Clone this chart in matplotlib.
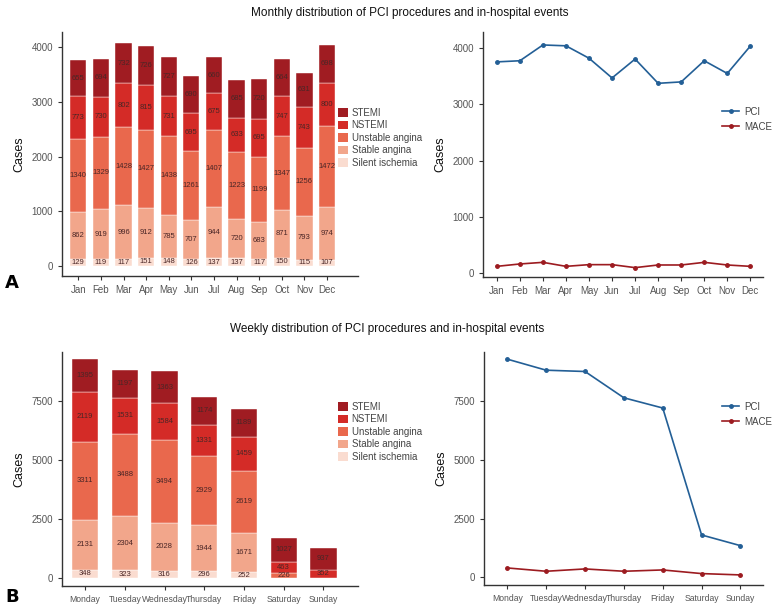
import numpy as np
import matplotlib
matplotlib.use("Agg")
import matplotlib.pyplot as plt
from matplotlib.lines import Line2D
from matplotlib.patches import Patch

plt.rcParams['font.family'] = ['Liberation Sans Narrow', 'Liberation Sans', 'DejaVu Sans']

# ---- data ----
months = ['Jan', 'Feb', 'Mar', 'Apr', 'May', 'Jun', 'Jul', 'Aug', 'Sep', 'Oct', 'Nov', 'Dec']
m_silent = [129, 119, 117, 151, 148, 126, 137, 137, 117, 150, 115, 107]
m_stable = [862, 919, 996, 912, 785, 707, 944, 720, 683, 871, 793, 974]
m_unstable = [1340, 1329, 1428, 1427, 1438, 1261, 1407, 1223, 1199, 1347, 1256, 1472]
m_nstemi = [773, 730, 802, 815, 731, 695, 675, 633, 695, 747, 743, 800]
m_stemi = [655, 694, 732, 726, 727, 690, 660, 685, 720, 664, 631, 698]
m_pci = [3750, 3770, 4050, 4035, 3815, 3465, 3800, 3370, 3395, 3770, 3545, 4030]
m_mace = [124, 166, 195, 124, 154, 154, 101, 148, 148, 195, 148, 124]

days = ['Monday', 'Tuesday', 'Wednesday', 'Thursday', 'Friday', 'Saturday', 'Sunday']
w_silent = [348, 323, 316, 296, 252, 0, 0]
w_stable = [2131, 2304, 2028, 1944, 1671, 0, 0]
w_unstable = [3311, 3488, 3494, 2929, 2619, 226, 0]
w_nstemi = [2119, 1531, 1584, 1331, 1459, 463, 352]
w_stemi = [1395, 1197, 1363, 1174, 1189, 1027, 937]
w_pci = [9285, 8815, 8760, 7640, 7205, 1800, 1345]
w_mace = [396, 255, 354, 255, 311, 156, 99]

types = ['Silent ischemia', 'Stable angina', 'Unstable angina', 'NSTEMI', 'STEMI']
type_colors = ['#fadcd0', '#f2a68b', '#e9684d', '#d42b27', '#a01c22']
pci_color = '#235f96'
mace_color = '#9c1b20'

W, H = 777, 610
fig = plt.figure(figsize=(W / 100, H / 100), dpi=100)


def px_axes(x0, y0, x1, y1):
    # pixel box (left, top, right, bottom) -> axes
    return fig.add_axes([x0 / W, 1 - y1 / H, (x1 - x0) / W, (y1 - y0) / H])


def style(ax, xsize=7):
    for s in ['top', 'right']:
        ax.spines[s].set_visible(False)
    for s in ['left', 'bottom']:
        ax.spines[s].set_color('#333333')
        ax.spines[s].set_linewidth(1.0)
    ax.tick_params(axis='both', labelsize=7, colors='#333333', labelcolor='#555555',
                   length=3, width=0.8)
    ax.tick_params(axis='x', labelsize=xsize)
    ax.set_ylabel('Cases', fontsize=9, color='#111111')
    w = ax.get_position().width * W
    ax.yaxis.set_label_coords(-37 / w, 0.5)


def stacked(ax, cats, layers, width, xsize=7):
    x = np.arange(len(cats))
    bottom = np.zeros(len(cats))
    for vals, col in zip(layers, type_colors):
        vals = np.array(vals, dtype=float)
        ax.bar(x, vals, width, bottom=bottom, color=col, edgecolor='white', linewidth=0.3)
        for xi, b, v in zip(x, bottom, vals):
            if v > 0:
                ax.text(xi, b + v / 2, f'{int(v)}', ha='center', va='center',
                        fontsize=5.5, color='#4a2626')
        bottom += vals
    ax.set_xticks(x)
    ax.set_xticklabels(cats)
    style(ax, xsize)


def bar_legend(ax, y_top):
    handles = [Patch(facecolor=c, edgecolor='none') for c in type_colors[::-1]]
    fig.legend(handles, types[::-1], loc='upper left',
               bbox_to_anchor=(334 / W, 1 - y_top / H), frameon=False,
               fontsize=7, labelcolor='#444444', handlelength=1.0, handleheight=1.0,
               handletextpad=0.4, labelspacing=0.25, borderaxespad=0)


def line_chart(ax, cats, pci, mace, y_top, xsize=7):
    x = np.arange(len(cats))
    ax.plot(x, pci, color=pci_color, lw=1.2, marker='o', ms=2.5)
    ax.plot(x, mace, color=mace_color, lw=1.2, marker='o', ms=2.5)
    ax.set_xticks(x)
    ax.set_xticklabels(cats)
    style(ax, xsize)
    handles = [Line2D([], [], color=pci_color, lw=1.2, marker='o', ms=2.5),
               Line2D([], [], color=mace_color, lw=1.2, marker='o', ms=2.5)]
    fig.legend(handles, ['PCI', 'MACE'], loc='upper left',
               bbox_to_anchor=(718 / W, 1 - y_top / H), frameon=False,
               fontsize=7, labelcolor='#444444', handlelength=1.8,
               handletextpad=0.5, labelspacing=0.5, borderaxespad=0)


# ---- A: monthly ----
ax1 = px_axes(62, 32, 358, 276)
stacked(ax1, months, [m_silent, m_stable, m_unstable, m_nstemi, m_stemi], 0.72)
ax1.set_xlim(-0.72, 12.37)
ax1.set_ylim(-185, 4280)
ax1.set_yticks([0, 1000, 2000, 3000, 4000])
bar_legend(ax1, 104)

ax2 = px_axes(483, 32, 763, 277)
line_chart(ax2, months, m_pci, m_mace, 103)
ax2.set_xlim(-0.6, 11.55)
ax2.set_ylim(-65, 4280)
ax2.set_yticks([0, 1000, 2000, 3000, 4000])

# ---- B: weekly ----
ax3 = px_axes(62, 352, 358, 586)
stacked(ax3, days, [w_silent, w_stable, w_unstable, w_nstemi, w_stemi], 0.66, xsize=6.2)
ax3.set_xlim(-0.58, 6.87)
ax3.set_ylim(-340, 9590)
ax3.set_yticks([0, 2500, 5000, 7500])
bar_legend(ax3, 398)

ax4 = px_axes(484, 352, 763, 585)
line_chart(ax4, days, w_pci, w_mace, 398, xsize=6.2)
ax4.set_xlim(-0.6, 6.58)
ax4.set_ylim(-330, 9590)
ax4.set_yticks([0, 2500, 5000, 7500])

fig.text(410 / W, 1 - 13 / H, 'Monthly distribution of PCI procedures and in-hospital events',
         ha='center', va='center', fontsize=8.5, color='#111111')
fig.text(387 / W, 1 - 329 / H, 'Weekly distribution of PCI procedures and in-hospital events',
         ha='center', va='center', fontsize=8.5, color='#111111')
fig.text(12 / W, 1 - 283 / H, 'A', ha='center', va='center', fontsize=13,
         fontweight='bold', family='DejaVu Sans')
fig.text(12 / W, 1 - 597 / H, 'B', ha='center', va='center', fontsize=13,
         fontweight='bold', family='DejaVu Sans')

fig.savefig('out.png', dpi=100)
